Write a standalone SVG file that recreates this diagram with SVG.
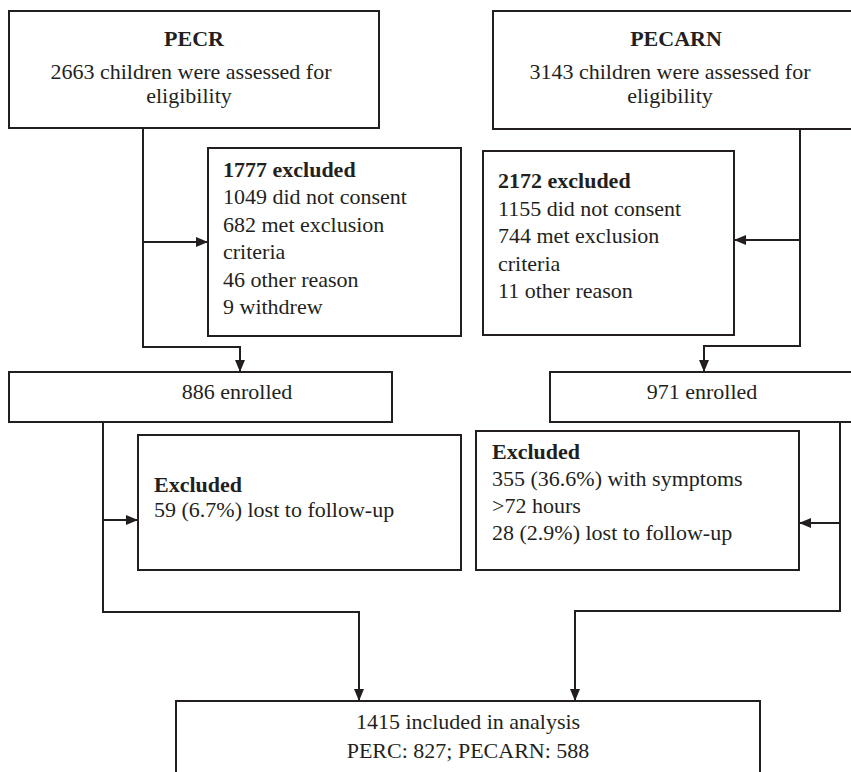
<svg xmlns="http://www.w3.org/2000/svg" width="851" height="772" viewBox="0 0 851 772">
<defs>
<marker id="ah" markerUnits="userSpaceOnUse" markerWidth="12" markerHeight="10" viewBox="0 0 12 10" refX="12" refY="5" orient="auto">
<path d="M0,0 L12,5 L0,10 Z" fill="#231f20"/>
</marker>
</defs>
<style>
rect{fill:#fff;stroke:#231f20;stroke-width:2}
text{font-family:"Liberation Serif","Times New Roman",serif;font-size:22px;fill:#231f20}
.b{font-weight:bold}
.c{text-anchor:middle}
.con path{fill:none;stroke:#231f20;stroke-width:2;marker-end:url(#ah)}
</style>
<g class="con" id="connectors">
<path d="M143,128 V347 H240 V372"/>
<path d="M143,242 H208"/>
<path d="M800,129 V346 H704 V372"/>
<path d="M800,240 H734"/>
<path d="M103,422 V612 H359 V701"/>
<path d="M103,520 H138"/>
<path d="M840,422 V611 H575 V701"/>
<path d="M840,523 H799"/>
</g>
<g id="pecr">
<rect x="9" y="11" width="370" height="117"/>
<text class="b c" x="194" y="46">PECR</text>
<text class="c" x="191" y="79">2663 children were assessed for</text>
<text class="c" x="189" y="103">eligibility</text>
</g>
<g id="pecarn">
<rect x="493" y="11" width="362" height="118"/>
<text class="b c" x="676" y="46">PECARN</text>
<text class="c" x="670" y="79">3143 children were assessed for</text>
<text class="c" x="670" y="103">eligibility</text>
</g>
<g id="excl1777">
<rect x="208" y="148" width="253" height="188"/>
<text class="b" x="223" y="177">1777 excluded</text>
<text x="223" y="204">1049 did not consent</text>
<text x="223" y="232">682 met exclusion</text>
<text x="223" y="259">criteria</text>
<text x="223" y="287">46 other reason</text>
<text x="223" y="314">9 withdrew</text>
</g>
<g id="excl2172">
<rect x="483" y="151" width="251" height="184"/>
<text class="b" x="498" y="188">2172 excluded</text>
<text x="498" y="216">1155 did not consent</text>
<text x="498" y="243">744 met exclusion</text>
<text x="498" y="271">criteria</text>
<text x="498" y="298">11 other reason</text>
</g>
<g id="enr886">
<rect x="9" y="372" width="383" height="50"/>
<text class="c" x="237" y="399">886 enrolled</text>
</g>
<g id="enr971">
<rect x="550" y="372" width="305" height="50"/>
<text class="c" x="702" y="399">971 enrolled</text>
</g>
<g id="exclL">
<rect x="138" y="435" width="323" height="135"/>
<text class="b" x="154" y="492">Excluded</text>
<text x="154" y="517">59 (6.7%) lost to follow-up</text>
</g>
<g id="exclR">
<rect x="476" y="431" width="323" height="139"/>
<text class="b" x="492" y="459">Excluded</text>
<text x="492" y="486">355 (36.6%) with symptoms</text>
<text x="492" y="513">&gt;72 hours</text>
<text x="492" y="540">28 (2.9%) lost to follow-up</text>
</g>
<g id="final">
<rect x="176" y="701" width="584" height="80"/>
<text class="c" x="468" y="729">1415 included in analysis</text>
<text class="c" x="468" y="758">PERC: 827; PECARN: 588</text>
</g>
</svg>
